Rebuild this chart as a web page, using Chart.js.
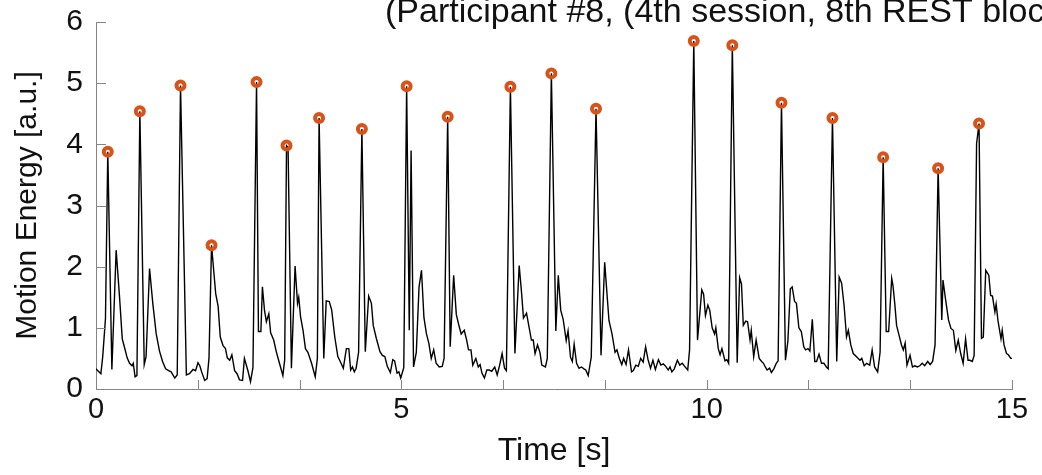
<!DOCTYPE html>
<html>
<head>
<meta charset="utf-8">
<script src="https://cdn.jsdelivr.net/npm/chart.js@4.4.1/dist/chart.umd.min.js"></script>
<style>
  html, body { margin: 0; padding: 0; background: #ffffff; }
  #wrap { width: 1042px; height: 475px; position: relative; }
</style>
</head>
<body>
<div id="wrap"><canvas id="c" width="1042" height="475"></canvas></div>
<script>
// ---------------- data ----------------
const titleText = '(Participant #8, (4th session, 8th REST block))';
const xAxisTitle = 'Time [s]';
const yAxisTitle = 'Motion Energy [a.u.]';

const xTickValues = [0, 5/3, 10/3, 5, 20/3, 25/3, 10, 35/3, 40/3, 15];
const xTickLabels = ['0', '', '', '5', '', '', '10', '', '', '15'];
const yTickValues = [0, 1, 2, 3, 4, 5, 6];

// [time (s), motion energy (a.u.)]
const energySamples = [
  [0.00,0.33],[0.03,0.30],[0.08,0.25],[0.11,0.53],[0.155,1.15],[0.193,3.88],[0.26,0.32],[0.33,2.27],[0.385,1.51],[0.43,0.82],[0.48,0.63],[0.51,0.51],[0.55,0.42],[0.59,0.38],[0.61,0.42],[0.64,0.20],[0.67,0.22],[0.718,4.54],
  [0.79,0.40],[0.82,0.53],[0.877,1.97],[0.93,1.40],[0.986,0.90],[1.04,0.62],[1.09,0.45],[1.14,0.33],[1.19,0.30],[1.23,0.28],[1.29,0.18],[1.33,0.23],[1.384,4.96],
  [1.48,0.23],[1.53,0.25],[1.59,0.32],[1.63,0.30],[1.67,0.43],[1.70,0.38],[1.73,0.28],[1.78,0.14],[1.82,0.17],[1.85,0.50],[1.892,2.35],
  [1.96,1.56],[2.00,1.35],[2.035,0.85],[2.08,0.71],[2.12,0.66],[2.15,0.51],[2.19,0.47],[2.225,0.56],[2.27,0.30],[2.31,0.25],[2.35,0.15],[2.40,0.14],[2.43,0.50],[2.49,0.29],[2.53,0.12],[2.57,0.35],[2.629,5.02],
  [2.66,0.94],[2.70,0.94],[2.725,1.67],[2.76,1.28],[2.79,1.10],[2.83,1.23],[2.86,0.92],[2.91,0.80],[2.95,0.62],[3.01,0.40],[3.06,0.22],[3.09,0.48],[3.12,3.98],[3.145,3.95],
  [3.20,0.34],[3.26,2.01],[3.30,1.40],[3.32,1.50],[3.35,1.18],[3.39,0.96],[3.43,0.66],[3.47,0.60],[3.53,0.42],[3.59,0.20],[3.625,0.50],[3.653,4.43],
  [3.73,0.50],[3.77,1.44],[3.82,1.43],[3.86,1.29],[3.91,0.85],[3.96,0.53],[4.00,0.45],[4.05,0.34],[4.10,0.66],[4.14,0.66],[4.17,0.31],[4.20,0.36],[4.23,0.28],[4.26,0.34],[4.30,0.60],[4.354,4.25],
  [4.41,0.61],[4.465,1.52],[4.51,1.40],[4.54,1.04],[4.59,0.83],[4.65,0.61],[4.69,0.55],[4.73,0.53],[4.77,0.37],[4.82,0.27],[4.86,0.48],[4.89,0.46],[4.93,0.26],[4.96,0.28],[4.99,0.18],[5.04,0.35],[5.087,4.95],
  [5.13,0.96],[5.16,3.90],[5.20,0.36],[5.245,0.60],[5.29,1.67],[5.33,1.94],[5.37,1.17],[5.41,0.91],[5.45,0.75],[5.49,0.50],[5.53,0.64],[5.57,0.42],[5.62,0.36],[5.67,0.37],[5.70,0.50],[5.759,4.45],
  [5.80,0.69],[5.857,1.86],[5.90,1.22],[5.94,1.05],[5.98,0.90],[6.03,0.96],[6.07,0.80],[6.10,0.64],[6.14,0.64],[6.17,0.39],[6.22,0.50],[6.26,0.36],[6.29,0.40],[6.32,0.26],[6.36,0.18],[6.40,0.31],[6.44,0.31],[6.48,0.29],[6.53,0.36],[6.57,0.23],[6.61,0.39],[6.65,0.58],[6.69,0.34],[6.72,0.30],[6.786,4.94],
  [6.86,0.58],[6.93,2.02],[6.97,1.56],[7.00,1.16],[7.05,1.24],[7.09,1.02],[7.13,0.80],[7.16,0.80],[7.19,0.58],[7.23,0.72],[7.27,0.60],[7.30,0.39],[7.36,0.36],[7.39,0.50],[7.457,5.16],
  [7.53,0.95],[7.57,1.86],[7.61,1.29],[7.65,1.14],[7.70,0.79],[7.73,0.95],[7.77,0.52],[7.80,0.45],[7.83,0.73],[7.87,0.42],[7.91,0.34],[7.95,0.36],[7.99,0.33],[8.02,0.31],[8.06,0.22],[8.11,0.52],[8.188,4.58],
  [8.27,0.55],[8.33,2.07],[8.40,1.12],[8.45,0.90],[8.50,0.60],[8.53,0.64],[8.57,0.50],[8.61,0.40],[8.64,0.50],[8.68,0.40],[8.72,0.64],[8.77,0.28],[8.80,0.30],[8.84,0.39],[8.88,0.37],[8.92,0.50],[8.96,0.44],[9.00,0.69],[9.04,0.48],[9.08,0.34],[9.12,0.47],[9.16,0.32],[9.21,0.48],[9.25,0.39],[9.29,0.41],[9.33,0.37],[9.37,0.31],[9.40,0.36],[9.43,0.28],[9.47,0.33],[9.52,0.47],[9.56,0.39],[9.60,0.42],[9.64,0.37],[9.69,0.31],[9.72,0.64],[9.789,5.69],
  [9.85,0.80],[9.92,1.62],[9.95,1.55],[9.98,1.20],[10.02,1.37],[10.05,1.29],[10.09,1.00],[10.13,0.90],[10.15,1.00],[10.19,0.66],[10.22,0.56],[10.25,0.66],[10.30,0.46],[10.33,0.48],[10.36,0.42],[10.42,5.62],
  [10.50,0.43],[10.54,1.82],[10.57,1.72],[10.60,1.04],[10.64,1.11],[10.67,1.10],[10.71,0.80],[10.73,0.96],[10.77,0.53],[10.81,0.80],[10.86,0.50],[10.90,0.45],[10.93,0.42],[10.96,0.36],[10.99,0.31],[11.03,0.34],[11.06,0.27],[11.10,0.33],[11.14,0.42],[11.17,0.46],[11.225,4.68],
  [11.29,0.47],[11.33,0.78],[11.37,1.64],[11.40,1.67],[11.44,1.43],[11.47,1.40],[11.51,1.00],[11.55,0.94],[11.59,0.69],[11.62,0.64],[11.66,0.66],[11.69,0.62],[11.73,1.14],[11.77,0.45],[11.80,0.45],[11.84,0.57],[11.88,0.42],[11.92,0.42],[11.96,0.36],[11.99,0.33],[12.06,4.43],
  [12.13,0.45],[12.17,1.83],[12.21,1.73],[12.25,1.37],[12.29,0.85],[12.32,0.96],[12.36,0.72],[12.40,0.58],[12.45,0.53],[12.51,0.47],[12.54,0.50],[12.58,0.38],[12.62,0.42],[12.67,0.39],[12.71,0.64],[12.75,0.36],[12.80,0.28],[12.84,0.60],[12.89,3.79],
  [12.94,0.94],[12.98,0.94],[13.03,1.81],[13.05,1.70],[13.08,1.40],[13.11,1.04],[13.15,0.88],[13.19,0.72],[13.22,0.64],[13.25,0.75],[13.28,0.39],[13.33,0.55],[13.37,0.36],[13.41,0.38],[13.45,0.36],[13.49,0.38],[13.53,0.42],[13.57,0.38],[13.62,0.45],[13.66,0.40],[13.70,0.45],[13.74,0.72],[13.79,3.61],
  [13.85,1.13],[13.87,1.78],[13.91,1.48],[13.96,1.13],[14.00,0.99],[14.04,0.96],[14.08,0.63],[14.12,0.80],[14.16,0.58],[14.20,0.42],[14.24,0.82],[14.28,0.47],[14.31,0.47],[14.35,0.45],[14.38,0.55],[14.42,4.01],[14.46,4.34],
  [14.50,0.83],[14.53,0.85],[14.57,1.94],[14.62,1.86],[14.65,1.53],[14.68,1.52],[14.72,1.26],[14.74,1.39],[14.77,1.12],[14.82,0.82],[14.84,0.96],[14.87,0.72],[14.91,0.58],[14.94,0.56],[14.98,0.50],[15.00,0.50]
];

const peakTimes  = [0.193, 0.718, 1.384, 1.892, 2.629, 3.12, 3.653, 4.354, 5.087, 5.759, 6.786, 7.457, 8.188, 9.789, 10.42, 11.225, 12.06, 12.89, 13.79, 14.46];
const peakValues = [3.88, 4.54, 4.96, 2.35, 5.02, 3.98, 4.43, 4.25, 4.95, 4.45, 4.94, 5.16, 4.58, 5.69, 5.62, 4.68, 4.43, 3.79, 3.61, 4.34];

// ---------------- styling ----------------
const FONT = '"Liberation Sans", Arial, Helvetica, sans-serif';
const TEXT_COLOR = '#111111';
const AXIS_COLOR = '#858585';
const PEAK_COLOR = '#D95319';

const lineData = energySamples.map(p => ({ x: p[0], y: p[1] }));
const peakData = peakTimes.map((t, i) => ({ x: t, y: peakValues[i] }));

const inwardTicks = {
  id: 'inwardTicks',
  afterDatasetsDraw(chart) {
    const { ctx, chartArea, scales: { x, y } } = chart;
    ctx.save();
    ctx.strokeStyle = AXIS_COLOR;
    ctx.lineWidth = 1;
    x.ticks.forEach(t => {
      if (t.value === 0) return;
      const px = Math.round(x.getPixelForValue(t.value)) + 0.5;
      ctx.beginPath();
      ctx.moveTo(px, chartArea.bottom);
      ctx.lineTo(px, chartArea.bottom - 9);
      ctx.stroke();
    });
    y.ticks.forEach(t => {
      if (t.value === 0) return;
      const py = Math.round(y.getPixelForValue(t.value)) + 0.5;
      ctx.beginPath();
      ctx.moveTo(chartArea.left, py);
      ctx.lineTo(chartArea.left + 10, py);
      ctx.stroke();
    });
    ctx.restore();
  }
};

const clippedTitle = {
  id: 'clippedTitle',
  afterDraw(chart) {
    const { ctx } = chart;
    ctx.save();
    ctx.fillStyle = TEXT_COLOR;
    ctx.font = '34px ' + FONT;
    ctx.textAlign = 'left';
    ctx.textBaseline = 'alphabetic';
    ctx.fillText(titleText, 385, 22);
    ctx.restore();
  }
};

new Chart(document.getElementById('c'), {
  type: 'line',
  data: {
    datasets: [
      {
        type: 'scatter',
        label: 'peaks',
        data: peakData,
        showLine: false,
        pointStyle: 'circle',
        pointRadius: 4,
        pointBorderWidth: 4,
        pointBorderColor: PEAK_COLOR,
        pointBackgroundColor: 'rgba(255,255,255,0)',
        order: 1,
        clip: false
      },
      {
        label: 'motion energy',
        data: lineData,
        borderColor: '#000000',
        borderWidth: 1.4,
        pointRadius: 0,
        tension: 0,
        fill: false,
        order: 2
      }
    ]
  },
  options: {
    responsive: false,
    animation: false,
    events: [],
    layout: { autoPadding: false, padding: { top: 22, right: 30, left: 0, bottom: 0 } },
    plugins: { legend: { display: false }, tooltip: { enabled: false }, title: { display: false } },
    scales: {
      x: {
        type: 'linear',
        min: 0,
        max: 15,
        afterBuildTicks: scale => { scale.ticks = xTickValues.map(v => ({ value: v })); },
        afterFit: scale => { scale.height = 86; },
        ticks: {
          autoSkip: false,
          maxRotation: 0,
          padding: 4,
          color: TEXT_COLOR,
          font: { family: FONT, size: 29 },
          callback: (value, index) => xTickLabels[index]
        },
        grid: { display: false, drawTicks: false },
        border: { display: true, color: AXIS_COLOR, width: 1 },
        title: {
          display: true,
          text: xAxisTitle,
          color: TEXT_COLOR,
          font: { family: FONT, size: 32 },
          padding: { top: 0, bottom: 5 }
        }
      },
      y: {
        type: 'linear',
        min: 0,
        max: 6,
        afterBuildTicks: scale => { scale.ticks = yTickValues.map(v => ({ value: v })); },
        afterFit: scale => { scale.width = 96; scale.paddingTop = 0; scale.paddingBottom = 0; },
        ticks: {
          padding: 13,
          color: TEXT_COLOR,
          font: { family: FONT, size: 30 },
          callback: v => String(v)
        },
        grid: { display: false, drawTicks: false },
        border: { display: true, color: AXIS_COLOR, width: 1 },
        title: {
          display: true,
          text: yAxisTitle,
          color: TEXT_COLOR,
          font: { family: FONT, size: 30 },
          padding: { top: 10, bottom: 0 }
        }
      }
    }
  },
  plugins: [inwardTicks, clippedTitle]
});
</script>
</body>
</html>
